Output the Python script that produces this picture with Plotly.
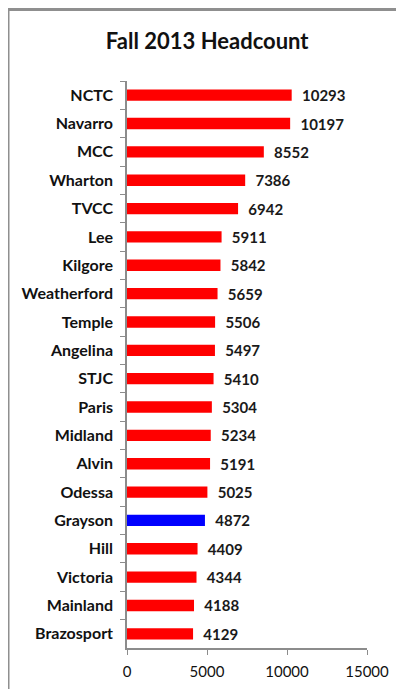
import plotly.graph_objects as go

colleges = ["NCTC", "Navarro", "MCC", "Wharton", "TVCC", "Lee", "Kilgore", "Weatherford",
            "Temple", "Angelina", "STJC", "Paris", "Midland", "Alvin", "Odessa", "Grayson",
            "Hill", "Victoria", "Mainland", "Brazosport"]
headcount = [10293, 10197, 8552, 7386, 6942, 5911, 5842, 5659, 5506, 5497, 5410, 5304,
             5234, 5191, 5025, 4872, 4409, 4344, 4188, 4129]
x_ticks = [0, 5000, 10000, 15000]

colors = ["#0000FF" if c == "Grayson" else "#FF0000" for c in colleges]

# page body has an 8px default margin, so the figure is 8px smaller than the window
fig = go.Figure(go.Bar(
    x=headcount, y=colleges, orientation="h",
    marker=dict(color=colors, line=dict(width=0)),
    text=["  " + str(v) for v in headcount], textposition="outside", constraintext="none",
    textfont=dict(family="Lato", size=15, color="#1a1a1a", weight="bold"),
    cliponaxis=False,
))

fig.update_layout(
    width=396, height=681,
    margin=dict(l=119, r=37, t=73, b=41),
    paper_bgcolor="white", plot_bgcolor="white",
    bargap=0.6,
    showlegend=False,
    title=dict(text="<b>Fall 2013 Headcount</b>", x=0.503, xanchor="center", y=0.951, yanchor="middle",
               font=dict(family="Lato", size=22, color="#111111")),
    xaxis=dict(range=[0, 15000], tickvals=x_ticks, ticktext=[str(t) for t in x_ticks],
               showgrid=False, zeroline=False, automargin=False,
               showline=True, linecolor="#8c8c8c", linewidth=1.5,
               ticks="outside", ticklen=5, tickcolor="#8c8c8c",
               tickfont=dict(family="Lato", size=15, color="#111111"), ticklabelstandoff=4),
    yaxis=dict(autorange="reversed", showgrid=False, zeroline=False, automargin=False,
               showline=True, linecolor="#8c8c8c", linewidth=1.5,
               ticks="outside", ticklen=5, tickcolor="#8c8c8c", tickson="boundaries",
               tickfont=dict(family="Lato", size=16, color="#111111", weight="bold"),
               ticklabelstandoff=9),
    shapes=[dict(type="rect", xref="paper", yref="paper", x0=-0.4958, x1=3, y0=-1, y1=1.126,
                 line=dict(color="#8f8f8f", width=3), fillcolor="rgba(0,0,0,0)", layer="below")],
)

fig.write_html("out.html")
